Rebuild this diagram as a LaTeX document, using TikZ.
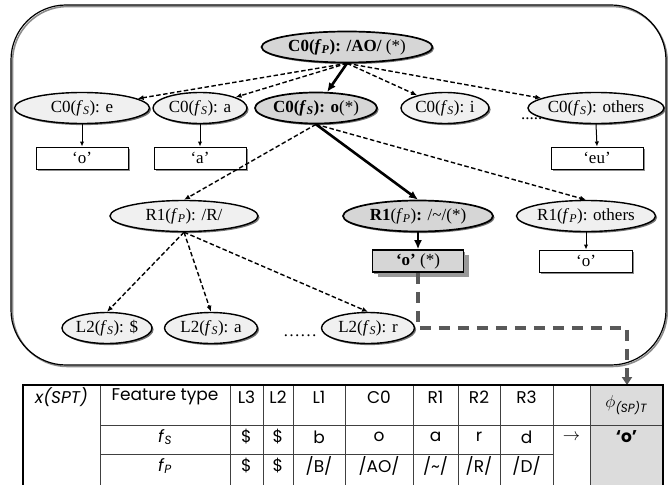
\documentclass[tikz,border=0pt]{standalone}
\usepackage{fontspec}
\setmainfont{Liberation Serif}
\newfontfamily\tabfont{Poppins}
\usetikzlibrary{arrows.meta,shapes.geometric,shadows}
\definecolor{lightfill}{HTML}{F0F0F0}
\definecolor{hifill}{HTML}{D6D6D6}
\definecolor{tabgray}{HTML}{DCDCDC}
\definecolor{linkgray}{HTML}{595959}
\newcommand{\myfS}{\textit{f}\textsubscript{\textit{S}}}
\newcommand{\myfP}{\textit{f}\textsubscript{\textit{P}}}
\begin{document}
\begin{tikzpicture}[x=1pt,y=-1pt,
  treefont/.style={font=\fontsize{17}{20}\selectfont},
  el/.style={ellipse, draw, line width=1.4pt, fill=lightfill, minimum height=31pt, inner sep=0pt, treefont,
    drop shadow={shadow xshift=1.6pt, shadow yshift=-1.6pt, fill=black!55, opacity=1}},
  hiel/.style={el, fill=hifill, line width=1.7pt},
  leaf/.style={rectangle, draw, line width=1pt, fill=white, minimum width=92pt, minimum height=22pt, inner sep=0pt, treefont,
    drop shadow={shadow xshift=1.6pt, shadow yshift=-1.6pt, fill=black!45, opacity=1}},
  hileaf/.style={leaf, fill=hifill, line width=1.6pt,
    drop shadow={shadow xshift=5pt, shadow yshift=-5pt, fill=black!40, opacity=1}},
  dsh/.style={line width=1.4pt, dash pattern=on 4.5pt off 2.5pt, -{Latex[length=6pt,width=5pt]}},
  thk/.style={line width=2.6pt, -{Latex[length=9pt,width=8pt]}},
  thn/.style={line width=1pt, -{Latex[length=5pt,width=4.5pt]}},
  link/.style={line width=3.5pt, draw=linkgray, dash pattern=on 11pt off 8pt, -{Triangle[length=8pt,width=10pt]}},
  cell/.style={font=\tabfont\fontsize{17}{20}\selectfont, inner sep=0pt},
  grid/.style={line width=0.8pt, black!75},
  dots/.style={treefont, inner sep=0pt}
]
\useasboundingbox (0,0) rectangle (668,484);
% outer frame
\draw[black!45, line width=1.6pt, rounded corners=55pt] (12.5,6.5) rectangle (667.2,366.5);
\draw[line width=1.2pt, rounded corners=55pt] (11,5) rectangle (666,365);

% dots
\node[dots, anchor=base west] (dots1) at (521,119) {.....};
\node[dots, anchor=base west] (dots2) at (283,336) {\ldots\ldots};

% level 0
\node[hiel, minimum width=171pt] (top) at (347,47) {\textbf{C0(\myfP): /AO/} (*)};
% level 1
\node[el, minimum width=135pt] (ce) at (82,108) {C0(\myfS): e};
\node[el, minimum width=94pt] (ca) at (200,108) {C0(\myfS): a};
\node[hiel, minimum width=122pt] (co) at (316,108) {\textbf{C0(\myfS): o}(*)};
\node[el, minimum width=88pt] (ci) at (445,108) {C0(\myfS): i};
\node[el, minimum width=136pt] (coth) at (596,108) {C0(\myfS): others};
\node[leaf] (bo) at (82,158) {‘o’};
\node[leaf] (ba) at (200,158) {‘a’};
\node[leaf] (beu) at (597,158) {‘eu’};
% level 2
\node[el, minimum width=148pt] (rr) at (184,216) {R1(\myfP): /R/};
\node[hiel, minimum width=150pt] (rt) at (418,216) {\textbf{R1}(\myfP)\textbf{:} /\textasciitilde/(*)};
\node[el, minimum width=139pt] (ro) at (586,216) {R1(\myfP): others};
\node[hileaf, minimum width=91pt] (bt) at (418,261) {\textbf{‘o’} (*)};
\node[leaf, minimum width=93pt] (bo3) at (586,261) {‘o’};
% level 3
\node[el, minimum width=90pt] (ld) at (107,328) {L2(\myfS): \$};
\node[el, minimum width=93pt] (la) at (211,328) {L2(\myfS): a};
\node[el, minimum width=93pt] (lr) at (368,328) {L2(\myfS): r};

% edges
\draw[dsh] (top.south) -- (ce);
\draw[dsh] (top.south) -- (ca);
\draw[thk] (top.south) -- (co);
\draw[dsh] (top.south) -- (ci);
\draw[dsh] (top.south) -- (coth);
\draw[thn] (ce.south) -- (bo.north);
\draw[thn] (ca.south) -- (ba.north);
\draw[thn] (coth.south) -- (beu.north);
\draw[dsh] (co.south) -- (rr.north);
\draw[thk] (co.south) -- (rt.north);
\draw[dsh] (co.south) -- (ro.north);
\draw[thk] (rt.south) -- (bt.north);
\draw[thn] (ro.south) -- (bo3.north);
\draw[dsh] (rr.south) -- (ld.north);
\draw[dsh] (rr.south) -- (la.north);
\draw[dsh] (rr.south) -- (lr.north);

% link to table
\coordinate (bend) at (627,328);
\coordinate (phitop) at (627,385);
\draw[link] (bt.south) |- (bend) -- (phitop);

% table
\fill[tabgray] (590,385) rectangle (663,490);
\foreach \x in {100,230,263,293,345,413,458,500,553,590} \draw[grid] (\x,385) -- (\x,490);
\draw[grid] (100,425) -- (663,425);
\draw[grid] (100,454) -- (553,454);
\draw[line width=1.6pt] (23,490) -- (23,385) -- (663,385) -- (663,490);

\node[cell] (h0) at (61.5,397) {\textit{x(SPT)}};
\node[cell] (h1) at (165,397) {Feature type};
\node[cell] (h2) at (246.5,397) {L3};
\node[cell] (h3) at (278,397) {L2};
\node[cell] (h4) at (319,397) {L1};
\node[cell] (h5) at (379,397) {C0};
\node[cell] (h6) at (435.5,397) {R1};
\node[cell] (h7) at (479,397) {R2};
\node[cell] (h8) at (526.5,397) {R3};
\node[cell] (h10) at (626.5,405) {$\phi$\textsubscript{\textit{(SP)T}}};

\node[cell] (s1) at (165,437) {\myfS};
\node[cell] (s2) at (246.5,437) {\$};
\node[cell] (s3) at (278,437) {\$};
\node[cell] (s4) at (319,437) {b};
\node[cell] (s5) at (379,437) {o};
\node[cell] (s6) at (435.5,437) {a};
\node[cell] (s7) at (479,437) {r};
\node[cell] (s8) at (526.5,437) {d};
\node[cell] (s9) at (571.5,437) {$\rightarrow$};
\node[cell] (s10) at (626.5,437) {\textbf{‘o’}};

\node[cell] (p1) at (165,466) {\myfP};
\node[cell] (p2) at (246.5,466) {\$};
\node[cell] (p3) at (278,466) {\$};
\node[cell] (p4) at (319,466) {/B/};
\node[cell] (p5) at (379,466) {/AO/};
\node[cell] (p6) at (435.5,466) {/\textasciitilde/};
\node[cell] (p7) at (479,466) {/R/};
\node[cell] (p8) at (526.5,466) {/D/};
\end{tikzpicture}
\end{document}
